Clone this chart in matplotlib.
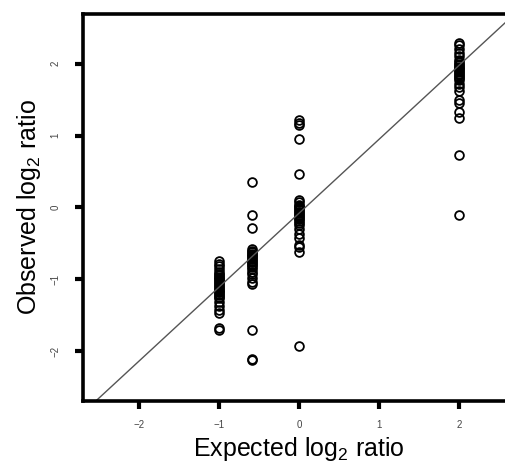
import matplotlib
matplotlib.use("Agg")
import matplotlib.pyplot as plt
import numpy as np

plt.rcParams['font.family'] = ['Liberation Sans', 'DejaVu Sans']
plt.rcParams['mathtext.fontset'] = 'custom'
plt.rcParams['mathtext.rm'] = 'Liberation Sans'
plt.rcParams['mathtext.it'] = 'Liberation Sans:italic'

# expected log2 ratios (columns)
expected = [-1.0, -0.585, 0.0, 2.0]

obs_m1 = [-0.75, -0.78, -0.82, -0.86, -0.90, -0.92, -0.94, -0.96, -0.98, -1.00,
          -1.02, -1.04, -1.06, -1.08, -1.10, -1.12, -1.14, -1.16, -1.18, -1.20,
          -1.22, -1.24, -1.26, -1.32, -1.37, -1.42, -1.46, -1.67, -1.70]
obs_m058 = [0.35, -0.10, -0.28, -0.58, -0.60, -0.62, -0.64, -0.66, -0.68, -0.70,
            -0.72, -0.74, -0.76, -0.78, -0.80, -0.83, -0.86, -0.89, -0.92, -0.98,
            -1.03, -1.06, -1.70, -2.10, -2.12]
obs_0 = [1.22, 1.18, 1.14, 0.95, 0.47, 0.10, 0.07, 0.04, 0.02, 0.00, -0.02,
         -0.04, -0.06, -0.08, -0.10, -0.12, -0.14, -0.16, -0.19, -0.22, -0.25,
         -0.30, -0.37, -0.42, -0.52, -0.55, -0.62, -1.93]
obs_2 = [2.28, 2.26, 2.20, 2.15, 2.10, 2.05, 2.02, 2.00, 1.98, 1.96, 1.94, 1.92,
         1.90, 1.88, 1.86, 1.84, 1.82, 1.80, 1.77, 1.72, 1.68, 1.62, 1.50, 1.45,
         1.33, 1.25, 0.73, -0.10]
observed = [obs_m1, obs_m058, obs_0, obs_2]

fit_intercept = -0.08
fit_slope = 1.03

xticks = [-2, -1, 0, 1, 2]
yticks = [-2, -1, 0, 1, 2]
ticklabels = ["\u22122", "\u22121", "0", "1", "2"]

W, H = 505, 465
fig = plt.figure(figsize=(W / 100, H / 100), dpi=100)
ax = fig.add_axes([82.5 / W, (H - 401) / H, 433 / W, 387 / H])

for xe, ys in zip(expected, observed):
    ax.plot([xe] * len(ys), ys, linestyle="none", marker="o", markersize=6.3,
            markerfacecolor="none", markeredgecolor="black", markeredgewidth=1.3)

xl = np.array([-3.0, 3.0])
ax.plot(xl, fit_intercept + fit_slope * xl, color="#555555", lw=1.0)

ax.set_xlim(-2.7, 2.7)
ax.set_ylim(-2.69, 2.69)
ax.set_xticks(xticks)
ax.set_yticks(yticks)
ax.set_xticklabels(ticklabels, fontsize=7, color="#444444")
ax.set_yticklabels(ticklabels, fontsize=7, color="#444444",
                   rotation=90, va="center")
ax.tick_params(axis="x", direction="out", length=6, width=3.0, pad=8,
               color="black")
ax.tick_params(axis="y", direction="out", length=6, width=3.0, pad=10,
               color="black")

for s in ax.spines.values():
    s.set_linewidth(2.6)

ax.set_xlabel("Expected log$_2$ ratio", fontsize=18, labelpad=3)
ax.set_ylabel("Observed log$_2$ ratio", fontsize=18, labelpad=5)

fig.savefig("out.png", dpi=100)
